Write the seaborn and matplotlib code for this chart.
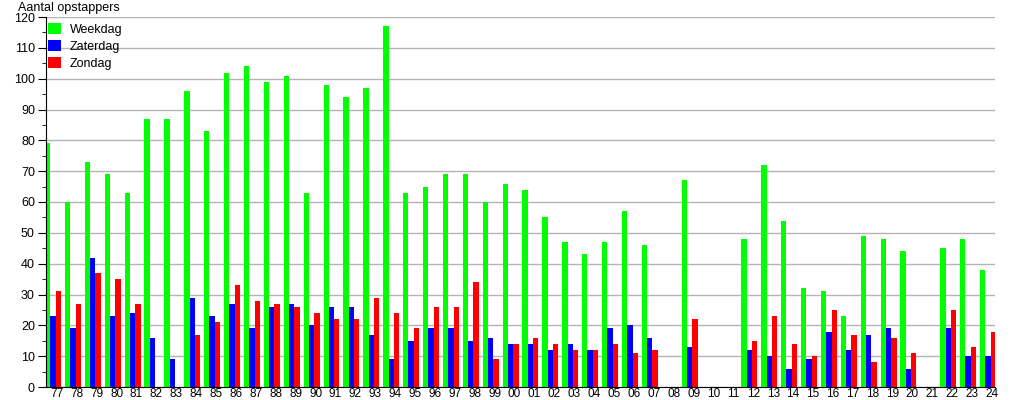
import numpy as np
import pandas as pd
import matplotlib
matplotlib.use('Agg')
import matplotlib.pyplot as plt
import matplotlib.transforms as mtrans
import seaborn as sns

# jaartallen (77 t/m 24)
jaren = ['77', '78', '79', '80', '81', '82', '83', '84', '85', '86', '87', '88',
         '89', '90', '91', '92', '93', '94', '95', '96', '97', '98', '99', '00',
         '01', '02', '03', '04', '05', '06', '07', '08', '09', '10', '11', '12',
         '13', '14', '15', '16', '17', '18', '19', '20', '21', '22', '23', '24']

weekdag = [79, 60, 73, 69, 63, 87, 87, 96, 83, 102, 104, 99,
           101, 63, 98, 94, 97, 117, 63, 65, 69, 69, 60, 66,
           64, 55, 47, 43, 47, 57, 46, 0, 67, 0, 0, 48,
           72, 54, 32, 31, 23, 49, 48, 44, 0, 45, 48, 38]
zaterdag = [23, 19, 42, 23, 24, 16, 9, 29, 23, 27, 19, 26,
            27, 20, 26, 26, 17, 9, 15, 19, 19, 15, 16, 14,
            14, 12, 14, 12, 19, 20, 16, 0, 13, 0, 0, 12,
            10, 6, 9, 18, 12, 17, 19, 6, 0, 19, 10, 10]
zondag = [31, 27, 37, 35, 27, 0, 0, 17, 21, 33, 28, 27,
          26, 24, 22, 22, 29, 24, 19, 26, 26, 34, 9, 14,
          16, 14, 12, 12, 14, 11, 12, 0, 22, 0, 0, 15,
          23, 14, 10, 25, 17, 8, 16, 11, 0, 25, 13, 18]

series = ['Weekdag', 'Zaterdag', 'Zondag']
kleuren = ['#00ff00', '#0000ff', '#ff0000']

df = pd.DataFrame({'jaar': jaren * 3,
                   'dag': np.repeat(series, len(jaren)),
                   'aantal': weekdag + zaterdag + zondag})

plt.rcParams['font.family'] = ['Liberation Sans', 'DejaVu Sans']

fig = plt.figure(figsize=(10.15, 4.0), dpi=100)
ax = fig.add_axes([46 / 1015, 13 / 400, 949 / 1015, 370 / 400])

sns.barplot(data=df, x='jaar', y='aantal', hue='dag', order=jaren,
            hue_order=series, palette=kleuren, width=0.8, saturation=1,
            linewidth=0, ax=ax)

ax.set_ylim(0, 120)
ax.set_xlim(-0.35, 47.35)
ax.set_yticks(range(0, 121, 10))
ax.set_yticks(range(5, 120, 10), minor=True)
ax.grid(axis='y', which='major', color='#b4b4b4', linewidth=1)
ax.set_axisbelow(True)
for s in ['top', 'right']:
    ax.spines[s].set_visible(False)
ax.spines['left'].set_color('black')
ax.spines['bottom'].set_color('black')
ax.tick_params(axis='y', which='major', length=6, labelsize=9, pad=2)
ax.tick_params(axis='y', which='minor', length=3)
ax.tick_params(axis='x', length=0, labelsize=8.5, pad=1)
ax.set_xlabel('')
ax.set_ylabel('')

# labels iets naar rechts verschuiven
offset = mtrans.ScaledTranslation(4 / 100, 0, fig.dpi_scale_trans)
for lbl in ax.get_xticklabels():
    lbl.set_transform(lbl.get_transform() + offset)

fig.text(18 / 1015, 1 - 8 / 400, 'Aantal opstappers', fontsize=9,
         ha='left', va='center')

leg = ax.legend(loc='upper left', bbox_to_anchor=(0, 1 - 4 / 370),
                frameon=False, fontsize=9,
                handlelength=1.05, handleheight=1.05, handletextpad=0.7,
                labelspacing=0.3, borderpad=0.15, borderaxespad=0.0)

plt.savefig('out.png', dpi=100)
